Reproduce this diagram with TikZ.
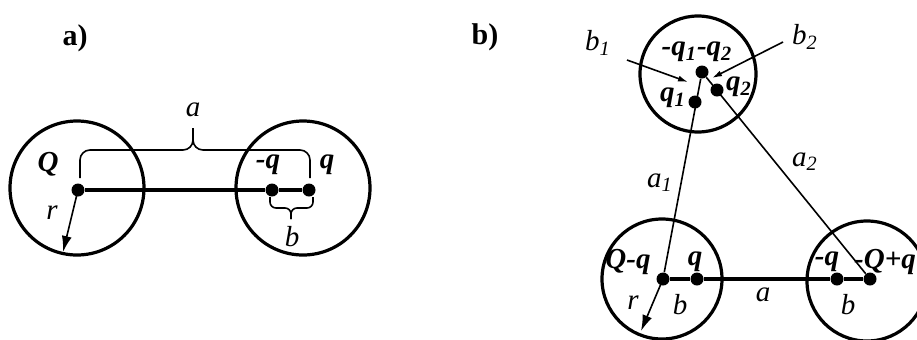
\documentclass[tikz,border=0pt]{standalone}
\usepackage{fontspec}
\setmainfont{Liberation Serif}
\usetikzlibrary{arrows.meta}

\begin{document}
\begin{tikzpicture}[x=0.5pt, y=-0.5pt,
    charge/.style={circle, fill=black, inner sep=0pt, minimum size=6.5pt},
    sphere/.style={line width=1.6pt},
    rod/.style={line width=1.6pt},
    thinline/.style={line width=0.8pt},
    radiusarrow/.style={thinline, -{Latex[length=8pt,width=5pt]}},
    shiftarrow/.style={thinline, -{Latex[length=5pt,width=3pt]}},
    lbl/.style={font=\fontsize{14.5}{16}\selectfont\itshape, inner sep=0pt},
    qlbl/.style={font=\fontsize{14.5}{16}\selectfont\bfseries\itshape, inner sep=0pt},
    tag/.style={font=\fontsize{15}{17}\selectfont\bfseries, inner sep=0pt}]

    % Fix the page size
    \useasboundingbox (0,0) rectangle (917,339);

    % Define sphere radius
    \def\sphereR{33.5pt}

    %%% Part a)
    \node[tag] (taga) at (75,38) {a)};

    % Define the centres of the spheres
    \coordinate (centerA) at (77,188);
    \coordinate (centerB) at (303,188);

    % Draw the spheres
    \draw[sphere] (centerA) circle[radius=\sphereR];
    \draw[sphere] (centerB) circle[radius=\sphereR];

    % Draw the charges
    \node[charge] (Qa) at (78,190) {};
    \node[charge] (mqa) at (272,190) {};
    \node[charge] (qa) at (309,190) {};
    \draw[rod] (Qa) -- (mqa) -- (qa);

    % Radius
    \coordinate (ra) at (63,252);
    \draw[radiusarrow] (Qa.center) -- (ra);

    % Braces for a and b
    \draw[thinline, rounded corners=5pt] (80,178) |- (193,150) -- (193,128);
    \draw[thinline, rounded corners=5pt] (193,128) -- (193,150) -| (310,178);
    \draw[thinline, rounded corners=3pt] (270,197) |- (291,208) -- (291,219);
    \draw[thinline, rounded corners=3pt] (291,219) -- (291,208) -| (313,197);

    % Label the charges and distances
    \node[qlbl] (labQa) at (48,164) {Q};
    \node[qlbl] (labmqa) at (268,165) {-q};
    \node[qlbl] (labqa) at (327,165) {q};
    \node[lbl] (labra) at (52,213) {r};
    \node[lbl] (labaa) at (193,110) {a};
    \node[lbl] (labba) at (292,237) {b};

    %%% Part b)
    \node[tag] (tagb) at (485,37) {b)};

    % Define the centres of the spheres
    \coordinate (centerT) at (698,74);
    \coordinate (centerL) at (662,279);
    \coordinate (centerR) at (867,281);

    % Draw the spheres
    \draw[sphere] (centerT) circle[radius=29pt];
    \draw[sphere] (centerL) circle[radius=30pt];
    \draw[sphere] (centerR) circle[radius=30pt];

    % Draw the charges
    \node[charge] (T) at (702,72) {};
    \node[charge] (q1) at (695,102) {};
    \node[charge] (q2) at (717,90) {};
    \node[charge] (BL) at (663,279) {};
    \node[charge] (qb) at (697,279) {};
    \node[charge] (mqb) at (837,279) {};
    \node[charge] (BR) at (870,279) {};

    % Connect the charges
    \draw[thinline] (T) -- (BL);
    \draw[thinline] (T) -- (BR);
    \draw[rod] (BL) -- (qb) -- (mqb) -- (BR);

    % Radius and shift arrows
    \coordinate (rb) at (641,331);
    \draw[radiusarrow] (BL.center) -- (rb);
    \coordinate (b1start) at (627,60);
    \coordinate (b1end) at (688,82);
    \coordinate (b2start) at (783,42);
    \coordinate (b2end) at (712,78);
    \draw[shiftarrow] (b1start) -- (b1end);
    \draw[shiftarrow] (b2start) -- (b2end);

    % Label the charges and distances
    \node[qlbl] (labT) at (697,52) {-q\textsubscript{1}-q\textsubscript{2}};
    \node[qlbl] (labq1) at (673,98) {q\textsubscript{1}};
    \node[qlbl] (labq2) at (739,87) {q\textsubscript{2}};
    \node[qlbl] (labBL) at (628,262) {Q-q};
    \node[qlbl] (labqb) at (695,262) {q};
    \node[qlbl] (labmqb) at (827,262) {-q};
    \node[qlbl] (labBR) at (885,262) {-Q+q};
    \node[lbl] (labb1) at (598,43) {b\textsubscript{1}};
    \node[lbl] (labb2) at (805,37) {b\textsubscript{2}};
    \node[lbl] (laba1) at (660,183) {a\textsubscript{1}};
    \node[lbl] (laba2) at (805,162) {a\textsubscript{2}};
    \node[lbl] (labrb) at (633,303) {r};
    \node[lbl] (labbl) at (680,305) {b};
    \node[lbl] (labab) at (763,295) {a};
    \node[lbl] (labbr) at (848,305) {b};

\end{tikzpicture}
\end{document}
